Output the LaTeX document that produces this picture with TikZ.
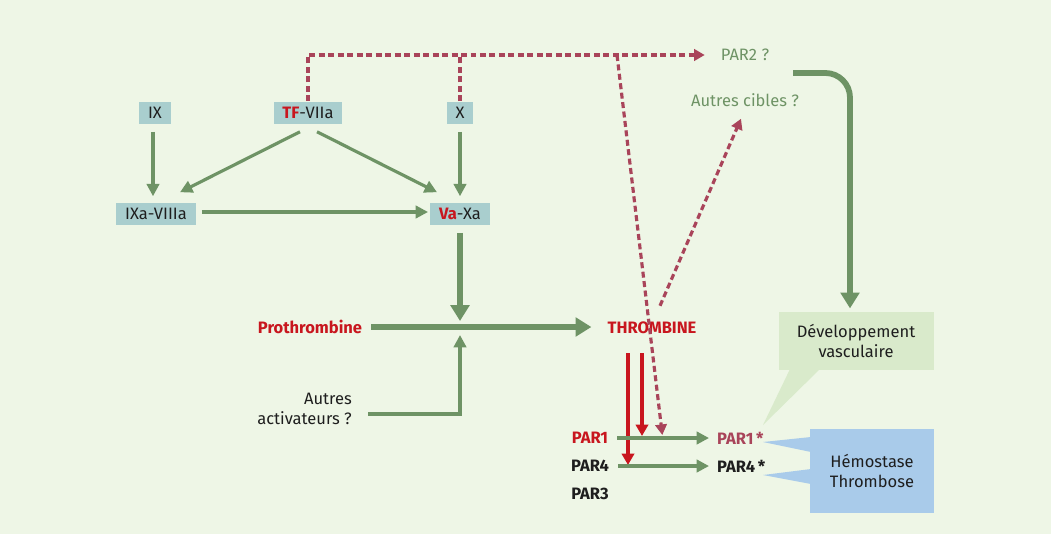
\documentclass[tikz,border=0pt]{standalone}
\usepackage{fontspec}
\setmainfont{Fira Sans}
\usetikzlibrary{arrows.meta,calc,positioning}
\definecolor{bgc}{HTML}{EEF6E6}
\definecolor{boxc}{HTML}{A9CECE}
\definecolor{grn}{HTML}{6E9365}
\definecolor{rd}{HTML}{C8161E}
\definecolor{rose}{HTML}{A9445A}
\definecolor{ink}{HTML}{1E1E1E}
\definecolor{devc}{HTML}{D9EACB}
\definecolor{hemc}{HTML}{A9CBEA}
\tikzset{
  txt/.style={font=\fontsize{9.4}{11}\selectfont, text=ink},
  bold/.style={txt, font=\fontsize{9.4}{11}\selectfont\bfseries},
  box/.style={txt, fill=boxc, minimum height=13pt, inner xsep=5pt, inner ysep=0pt},
  garr/.style={draw=grn, line width=1.8pt, -{Triangle[length=7pt,width=7pt]}},
  gbig/.style={draw=grn, line width=3.3pt, -{Triangle[length=9pt,width=10.5pt]}},
  rarr/.style={draw=rd, line width=1.8pt, -{Triangle[length=6.5pt,width=7pt]}},
  darr/.style={draw=rose, line width=1.8pt, dash pattern=on 3.4pt off 2pt, -{Triangle[length=6pt,width=6.5pt]}}
}
\begin{document}
\begin{tikzpicture}[x=0.02cm, y=-0.02cm]
\fill[bgc] (0,0) rectangle (1051,534);
\useasboundingbox (0,0) rectangle (1051,534);
% callouts
\fill[devc] (779,312) rectangle (934,370);
\fill[devc] (790,369) -- (763,425) -- (820,369) -- cycle;
\fill[hemc] (810,429) rectangle (934,513);
\fill[hemc] (811,437) -- (763,442) -- (811,452) -- cycle;
\fill[hemc] (811,469) -- (763,475) -- (811,484) -- cycle;
\node[txt, align=center] (dev) at (856,341) {Développement\\vasculaire};
\node[txt, align=center] (hem) at (872,471) {Hémostase\\Thrombose};
% boxes
\node[box] (ix) at (155,113) {IX};
\node[box] (tf) at (308,113) {\textcolor{rd}{\bfseries TF}-VIIa};
\node[box] (x) at (460,113) {X};
\node[box] (ixa) at (156,214) {IXa-VIIIa};
\node[box] (va) at (460,214) {\textcolor{rd}{\bfseries Va}-Xa};
% texts
\node[bold, text=rd] (pro) at (310,327) {Prothrombine};
\node[bold, text=rd] (thr) at (652,328) {THROMBINE};
\node[txt, align=right, anchor=east] (act) at (358,409) {Autres\\activateurs ?};
\node[bold, text=rd] (par1) at (590,438) {PAR1};
\node[bold] (par4) at (590,466) {PAR4};
\node[bold] (par3) at (590,494) {PAR3};
\node[bold, text=rose, anchor=west] (par1s) at (711,438) {PAR1\,*};
\node[bold, anchor=west] (par4s) at (711,466) {PAR4\,*};
\node[txt, text=grn] (par2) at (745,55) {PAR2 ?};
\node[txt, text=grn] (cib) at (745,100) {Autres cibles ?};
\coordinate (mid) at (460,327);
\coordinate (split) at (617,55);
\coordinate (g0) at (793,73);
\coordinate (r4) at ($(thr.south)+(-24,13)$);
\coordinate (r1) at ($(thr.south)+(-10,13)$);
% cascade
\draw[garr] ($(ix.south)+(-2,7)$) -- ($(ixa.north)+(-3,-6)$);
\draw[garr] ($(tf.south)+(-8,7)$) -- ($(ixa.north)+(24,-10)$);
\draw[garr] ($(tf.south)+(9,7)$) -- ($(va.north)+(-23,-10)$);
\draw[garr] ($(x.south)+(0,7)$) -- ($(va.north)+(0,-6)$);
\draw[garr] ($(ixa.east)+(6,-2)$) -- ($(ixa.east -| va.west)+(-2,-2)$);
\draw[gbig] ($(va.south)+(0,7)$) -- ($(mid)+(0,-6)$);
\draw[gbig] ($(pro.east)+(3,0)$) -- ($(pro.east -| thr.west)+(-10,0)$);
\draw[garr] ($(act.east)+(10,5)$) -| ($(mid)+(0,8)$);
% PAR activation
\draw[rarr] (r4) -- ($(r4 |- par4)+(0,-1)$);
\draw[rarr] (r1) -- ($(r1 |- par1)+(0,-2)$);
\draw[garr] ($(par1.east)+(3,0)$) -- ($(par1.east -| par1s.west)+(-2,0)$);
\draw[garr] ($(par4.east)+(3,0)$) -- ($(par4.east -| par4s.west)+(-2,0)$);
% other targets
\draw[darr] (tf.north) |- ($(par2.west)+(-10,0)$);
\draw[darr, -] (x.north) -- (x.north |- par2);
\draw[darr] (split) -- ($(par1.east)+(48,-3)$);
\draw[darr] ($(thr.north)+(8,-10)$) -- ($(cib.south)+(-4,6)$);
\draw[gbig, rounded corners=14] (g0) -| ($(dev.north)+(-6,-10)$);
\end{tikzpicture}
\end{document}
